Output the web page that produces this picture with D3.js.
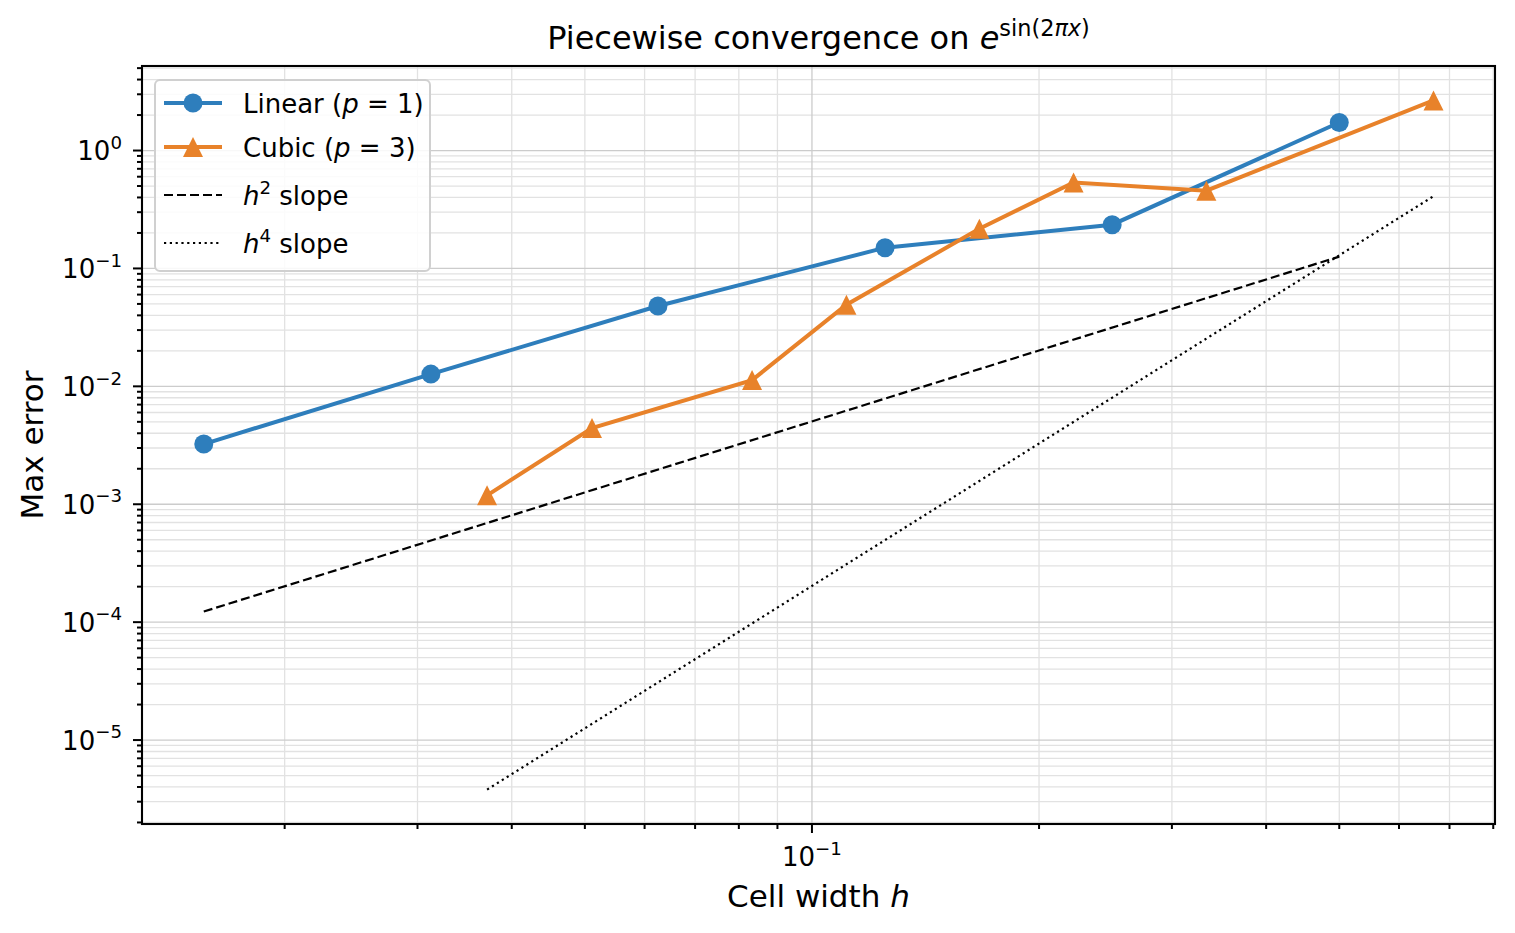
<!DOCTYPE html>
<html lang="en">
  <head>
    <meta charset="UTF-8" />
    <title>Piecewise convergence</title>
    <script src="https://d3js.org/d3.v7.min.js"></script>
    <style>
      body {
        margin: 0;
        background: #fff;
        font-family: "DejaVu Sans", sans-serif;
      }
      .grid-major {
        stroke: #cccccc;
        stroke-width: 1.3px;
      }
      .grid-minor {
        stroke: #e2e2e2;
        stroke-width: 1.3px;
      }
      .line {
        fill: none;
      }
    </style>
  </head>
  <body>
    <svg id="chart" width="1515" height="933"></svg>

    <script>
      // data
      const hLinear = [1 / 64, 1 / 32, 1 / 16, 1 / 8, 1 / 4, 1 / 2];
      const errLinear = [3.24e-3, 1.27e-2, 4.8e-2, 0.15, 0.235, 1.73];

      const hCubic = [0.0371, 0.0511, 0.0833, 0.1111, 0.1667, 0.2222, 0.3333, 0.6667];
      const errCubic = [1.19e-3, 4.43e-3, 1.13e-2, 4.92e-2, 0.217, 0.535, 0.457, 2.66];

      // reference slopes (end points)
      const h2x = [1 / 64, 1 / 2];
      const h2y = [1.23e-4, 0.126];
      const h4x = [0.0371, 0.6667];
      const h4y = [3.8e-6, 0.41];

      const yMajorExp = [-5, -4, -3, -2, -1, 0];
      const xMajorExp = [-1];

      const svg = d3.select("#chart");
      const margin = { top: 66, right: 20, bottom: 109, left: 142 };
      const width = +svg.attr("width") - margin.left - margin.right;
      const height = +svg.attr("height") - margin.top - margin.bottom;
      const g = svg
        .append("g")
        .attr("transform", `translate(${margin.left},${margin.top})`);

      const x = d3.scaleLog().domain([0.01294, 0.8043]).range([0, width]);
      const y = d3.scaleLog().domain([Math.pow(10, -5.712), Math.pow(10, 0.717)]).range([height, 0]);

      // minor tick values inside the domain
      function minorTicks(scale, lo, hi) {
        const out = [];
        const [d0, d1] = scale.domain();
        for (let e = lo; e <= hi; e++) {
          for (let k = 2; k <= 9; k++) {
            const v = k * Math.pow(10, e);
            if (v >= d0 && v <= d1) out.push(v);
          }
        }
        return out;
      }
      const xMinor = minorTicks(x, -2, -1);
      const yMinor = minorTicks(y, -6, 0);
      const xMajor = xMajorExp.map((e) => Math.pow(10, e));
      const yMajor = yMajorExp.map((e) => Math.pow(10, e));

      // grid
      const grid = g.append("g");
      grid.selectAll(".gx-minor").data(xMinor).join("line")
        .attr("class", "grid-minor")
        .attr("x1", (d) => x(d)).attr("x2", (d) => x(d))
        .attr("y1", 0).attr("y2", height);
      grid.selectAll(".gy-minor").data(yMinor).join("line")
        .attr("class", "grid-minor")
        .attr("y1", (d) => y(d)).attr("y2", (d) => y(d))
        .attr("x1", 0).attr("x2", width);
      grid.selectAll(".gx-major").data(xMajor).join("line")
        .attr("class", "grid-major")
        .attr("x1", (d) => x(d)).attr("x2", (d) => x(d))
        .attr("y1", 0).attr("y2", height);
      grid.selectAll(".gy-major").data(yMajor).join("line")
        .attr("class", "grid-major")
        .attr("y1", (d) => y(d)).attr("y2", (d) => y(d))
        .attr("x1", 0).attr("x2", width);

      // lines
      const line = d3.line().x((d) => x(d[0])).y((d) => y(d[1]));
      const zip = (a, b) => a.map((v, i) => [v, b[i]]);

      const dashed = "9,4";
      const dotted = "2.2,3.6";

      g.append("path")
        .datum(zip(h2x, h2y))
        .attr("class", "line")
        .attr("stroke", "#000")
        .attr("stroke-width", 2.2)
        .attr("stroke-dasharray", dashed)
        .attr("d", line);

      g.append("path")
        .datum(zip(h4x, h4y))
        .attr("class", "line")
        .attr("stroke", "#000")
        .attr("stroke-width", 2.2)
        .attr("stroke-dasharray", dotted)
        .attr("d", line);

      const blue = "#2e7ebc";
      const orange = "#e8822a";
      const tri = "M0,-10L10,10L-10,10Z";

      g.append("path")
        .datum(zip(hLinear, errLinear))
        .attr("class", "line")
        .attr("stroke", blue)
        .attr("stroke-width", 4)
        .attr("d", line);
      g.selectAll(".pt-lin").data(zip(hLinear, errLinear)).join("circle")
        .attr("cx", (d) => x(d[0])).attr("cy", (d) => y(d[1]))
        .attr("r", 9.5).attr("fill", blue);

      g.append("path")
        .datum(zip(hCubic, errCubic))
        .attr("class", "line")
        .attr("stroke", orange)
        .attr("stroke-width", 4)
        .attr("d", line);
      g.selectAll(".pt-cub").data(zip(hCubic, errCubic)).join("path")
        .attr("d", tri)
        .attr("transform", (d) => `translate(${x(d[0])},${y(d[1])})`)
        .attr("fill", orange);

      // frame
      g.append("rect")
        .attr("width", width).attr("height", height)
        .attr("fill", "none").attr("stroke", "#000").attr("stroke-width", 2.1);

      // ticks
      const ticks = g.append("g").attr("stroke", "#000").attr("stroke-width", 2);
      ticks.selectAll(".tx").data(xMajor).join("line")
        .attr("x1", (d) => x(d)).attr("x2", (d) => x(d))
        .attr("y1", height).attr("y2", height + 9);
      ticks.selectAll(".txm").data(xMinor).join("line")
        .attr("x1", (d) => x(d)).attr("x2", (d) => x(d))
        .attr("y1", height).attr("y2", height + 5);
      ticks.selectAll(".ty").data(yMajor).join("line")
        .attr("y1", (d) => y(d)).attr("y2", (d) => y(d))
        .attr("x1", 0).attr("x2", -9);
      ticks.selectAll(".tym").data(yMinor).join("line")
        .attr("y1", (d) => y(d)).attr("y2", (d) => y(d))
        .attr("x1", 0).attr("x2", -5);

      // power-of-ten labels
      function pow10Label(sel, e) {
        sel.append("tspan").text("10");
        sel.append("tspan")
          .attr("font-size", "0.7em")
          .attr("dy", "-0.62em")
          .text(e < 0 ? "\u2212" + -e : String(e));
      }
      yMajorExp.forEach((e) => {
        const t = g.append("text")
          .attr("x", -20)
          .attr("y", y(Math.pow(10, e)) + 9.5)
          .attr("text-anchor", "end")
          .attr("font-size", 26);
        pow10Label(t, e);
      });
      xMajorExp.forEach((e) => {
        const t = g.append("text")
          .attr("x", x(Math.pow(10, e)))
          .attr("y", 866 - margin.top)
          .attr("text-anchor", "middle")
          .attr("font-size", 26);
        pow10Label(t, e);
      });

      // rich text helper: segments of {t, it, sup}
      function rich(sel, parts) {
        let inSup = false;
        parts.forEach((p) => {
          const ts = sel.append("tspan").text(p.t);
          if (p.it) ts.attr("font-style", "italic");
          if (p.sup && !inSup) {
            ts.attr("dy", "-0.6em");
            inSup = true;
          } else if (!p.sup && inSup) {
            ts.attr("dy", "0.42em");
            inSup = false;
          }
          if (p.sup) ts.attr("font-size", "0.7em");
        });
      }

      // title
      rich(
        svg.append("text")
          .attr("x", margin.left + width / 2)
          .attr("y", 49)
          .attr("text-anchor", "middle")
          .attr("font-size", 32),
        [
          { t: "Piecewise convergence on " },
          { t: "e", it: true },
          { t: "sin(2", sup: true },
          { t: "\u03c0x", it: true, sup: true },
          { t: ")", sup: true },
        ]
      );

      // axis labels
      rich(
        svg.append("text")
          .attr("x", margin.left + width / 2)
          .attr("y", 907)
          .attr("text-anchor", "middle")
          .attr("font-size", 31),
        [{ t: "Cell width " }, { t: "h", it: true }]
      );
      svg.append("text")
        .attr("transform", `translate(43,${margin.top + height / 2}) rotate(-90)`)
        .attr("text-anchor", "middle")
        .attr("font-size", 31)
        .text("Max error");

      // legend
      const legend = g.append("g").attr("transform", "translate(13,14)");
      legend.append("rect")
        .attr("width", 275).attr("height", 191)
        .attr("rx", 5)
        .attr("fill", "#fff").attr("fill-opacity", 0.85)
        .attr("stroke", "#d0d0d0").attr("stroke-width", 2);

      const entries = [
        { color: blue, dash: null, w: 4, marker: "circle", label: [{ t: "Linear (" }, { t: "p", it: true }, { t: " = 1)" }] },
        { color: orange, dash: null, w: 4, marker: "tri", label: [{ t: "Cubic (" }, { t: "p", it: true }, { t: " = 3)" }] },
        { color: "#000", dash: dashed, w: 2.2, marker: null, label: [{ t: "h", it: true }, { t: "2", sup: true }, { t: " slope" }] },
        { color: "#000", dash: dotted, w: 2.2, marker: null, label: [{ t: "h", it: true }, { t: "4", sup: true }, { t: " slope" }] },
      ];
      const rowY = [23, 67, 115, 163];
      entries.forEach((en, i) => {
        const row = legend.append("g").attr("transform", `translate(0,${rowY[i]})`);
        row.append("line")
          .attr("x1", 9).attr("x2", 67)
          .attr("stroke", en.color)
          .attr("stroke-width", en.w)
          .attr("stroke-dasharray", en.dash);
        if (en.marker === "circle")
          row.append("circle").attr("cx", 38).attr("r", 9.5).attr("fill", en.color);
        if (en.marker === "tri")
          row.append("path").attr("d", tri).attr("transform", "translate(38,0)").attr("fill", en.color);
        rich(
          row.append("text").attr("x", 88).attr("y", 9.5).attr("font-size", 26),
          en.label
        );
      });
    </script>
  </body>
</html>
